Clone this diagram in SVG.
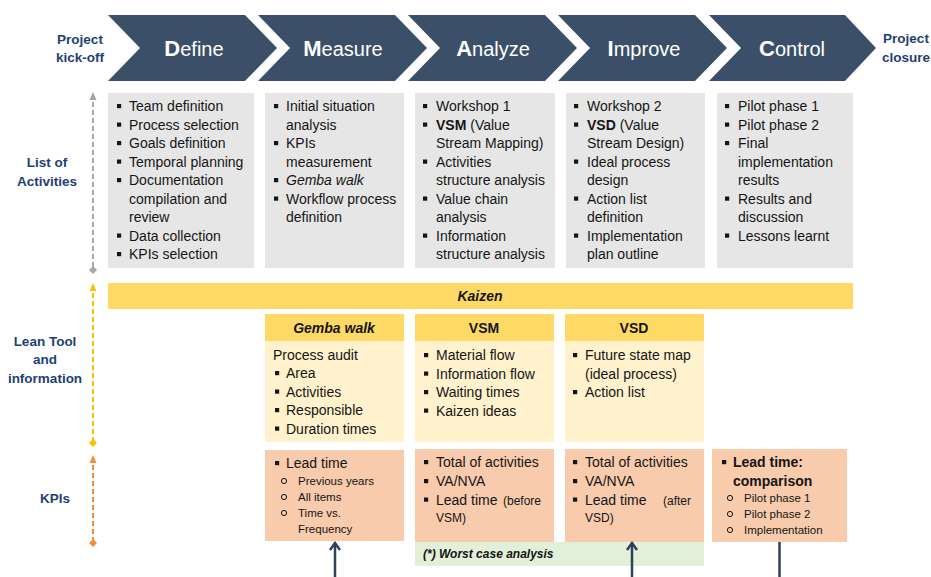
<svg xmlns="http://www.w3.org/2000/svg" width="931" height="577" viewBox="0 0 931 577">
<defs>
<style>
text{font-family:"Liberation Sans",Arial,sans-serif;fill:#151515}
.t{font-size:14px}
.s{font-size:11.5px}
.sm{font-size:12px}
.ph{font-size:20px;fill:#ffffff}
.ph tspan.b{font-weight:bold;font-size:22px}
.lbl{font-size:13.5px;font-weight:bold;fill:#1f3f73;text-anchor:middle}
.chev{fill:#3c4f69}
.gray{fill:#e7e6e6}
.yh{fill:#ffd966}
.yb{fill:#fff2cc}
.pk{fill:#f8cbad}
.gr{fill:#e2f0d9}
.hd{font-size:14px;font-weight:bold;text-anchor:middle}
.bi{font-style:italic;font-weight:bold}
.bl{fill:#151515}
.ci{fill:none;stroke:#151515;stroke-width:1}
.conn{stroke:#2f4158;stroke-width:2.5;fill:none}
</style>
<marker id="up" viewBox="0 0 12 12" refX="10" refY="6" markerWidth="12" markerHeight="12" markerUnits="userSpaceOnUse" orient="auto">
<path d="M3,1 L10,6 L3,11" fill="none" stroke="#2f4158" stroke-width="2.5"/>
</marker>
<marker id="agray" viewBox="0 0 8 8" refX="6" refY="4" markerWidth="8" markerHeight="8" markerUnits="userSpaceOnUse" orient="auto-start-reverse"><path d="M0,0.5 L8,4 L0,7.5Z" fill="#a6a6a6"/></marker>
<marker id="dgray" viewBox="0 0 8 8" refX="4" refY="4" markerWidth="8" markerHeight="8" markerUnits="userSpaceOnUse"><path d="M4,0 L8,4 L4,8 L0,4Z" fill="#a6a6a6"/></marker>
<marker id="ayel" viewBox="0 0 8 8" refX="6" refY="4" markerWidth="8" markerHeight="8" markerUnits="userSpaceOnUse" orient="auto-start-reverse"><path d="M0,0.5 L8,4 L0,7.5Z" fill="#ffc000"/></marker>
<marker id="dyel" viewBox="0 0 8 8" refX="4" refY="4" markerWidth="8" markerHeight="8" markerUnits="userSpaceOnUse"><path d="M4,0 L8,4 L4,8 L0,4Z" fill="#ffc000"/></marker>
<marker id="aor" viewBox="0 0 8 8" refX="6" refY="4" markerWidth="8" markerHeight="8" markerUnits="userSpaceOnUse" orient="auto-start-reverse"><path d="M0,0.5 L8,4 L0,7.5Z" fill="#f58d3c"/></marker>
<marker id="dor" viewBox="0 0 8 8" refX="4" refY="4" markerWidth="8" markerHeight="8" markerUnits="userSpaceOnUse"><path d="M4,0 L8,4 L4,8 L0,4Z" fill="#f58d3c"/></marker>
<rect id="sq" x="-2" y="-2" width="4.2" height="4.2"/>
</defs>
<rect width="931" height="577" fill="#ffffff"/>

<!-- Left labels -->
<g id="label-kickoff"><text class="lbl" x="80" y="44">Project</text><text class="lbl" x="80" y="62">kick-off</text></g>
<g id="label-closure"><text class="lbl" x="906" y="43">Project</text><text class="lbl" x="906" y="62">closure</text></g>
<g id="label-activities"><text class="lbl" x="47" y="167">List of</text><text class="lbl" x="47" y="186">Activities</text></g>
<g id="label-lean"><text class="lbl" x="45" y="346">Lean Tool</text><text class="lbl" x="45" y="364">and</text><text class="lbl" x="45" y="383">information</text></g>
<g id="label-kpis"><text class="lbl" x="55" y="503">KPIs</text></g>

<!-- Axis lines -->
<g id="axes" stroke-width="2" stroke-dasharray="5,3">
<line x1="93" y1="94" x2="93" y2="270" stroke="#a6a6a6" marker-start="url(#agray)" marker-end="url(#dgray)"/>
<line x1="93" y1="285" x2="93" y2="443" stroke="#ffc000" marker-start="url(#ayel)" marker-end="url(#dyel)"/>
<line x1="93" y1="457" x2="93" y2="543" stroke="#f58d3c" marker-start="url(#aor)" marker-end="url(#dor)"/>
</g>

<!-- Phase chevrons -->
<g id="phase-define"><polygon class="chev" points="108,15 245,15 277,48 245,81 108,81 140,48"/><text class="ph" x="194" y="56" text-anchor="middle"><tspan class="b">D</tspan>efine</text></g>
<g id="phase-measure"><polygon class="chev" points="258,15 395,15 427,48 395,81 258,81 290,48"/><text class="ph" x="343" y="56" text-anchor="middle"><tspan class="b">M</tspan>easure</text></g>
<g id="phase-analyze"><polygon class="chev" points="408,15 545,15 577,48 545,81 408,81 440,48"/><text class="ph" x="493" y="56" text-anchor="middle"><tspan class="b">A</tspan>nalyze</text></g>
<g id="phase-improve"><polygon class="chev" points="558,15 695,15 727,48 695,81 558,81 590,48"/><text class="ph" x="644" y="56" text-anchor="middle"><tspan class="b">I</tspan>mprove</text></g>
<g id="phase-control"><polygon class="chev" points="709,15 845,15 876,48 845,81 709,81 741,48"/><text class="ph" x="792" y="56" text-anchor="middle"><tspan class="b">C</tspan>ontrol</text></g>

<!-- Activities -->
<g id="act-define">
<rect class="gray" x="108" y="93" width="146" height="175"/>
<g class="bl"><use href="#sq" x="119" y="106"/><use href="#sq" x="119" y="124.5"/><use href="#sq" x="119" y="143"/><use href="#sq" x="119" y="161.5"/><use href="#sq" x="119" y="180"/><use href="#sq" x="119" y="235.5"/><use href="#sq" x="119" y="254"/></g>
<text class="t" x="129" y="111">Team definition</text>
<text class="t" x="129" y="129.5">Process selection</text>
<text class="t" x="129" y="148">Goals definition</text>
<text class="t" x="129" y="166.5">Temporal planning</text>
<text class="t" x="129" y="185">Documentation</text>
<text class="t" x="129" y="203.5">compilation and</text>
<text class="t" x="129" y="222">review</text>
<text class="t" x="129" y="240.5">Data collection</text>
<text class="t" x="129" y="259">KPIs selection</text>
</g>
<g id="act-measure">
<rect class="gray" x="265" y="93" width="139" height="175"/>
<g class="bl"><use href="#sq" x="276" y="106"/><use href="#sq" x="276" y="143"/><use href="#sq" x="276" y="180"/><use href="#sq" x="276" y="198.5"/></g>
<text class="t" x="286" y="111">Initial situation</text>
<text class="t" x="286" y="129.5">analysis</text>
<text class="t" x="286" y="148">KPIs</text>
<text class="t" x="286" y="166.5">measurement</text>
<text class="t" x="286" y="185" font-style="italic">Gemba walk</text>
<text class="t" x="286" y="203.5">Workflow process</text>
<text class="t" x="286" y="222">definition</text>
</g>
<g id="act-analyze">
<rect class="gray" x="415" y="93" width="140" height="175"/>
<g class="bl"><use href="#sq" x="425" y="106"/><use href="#sq" x="425" y="124.5"/><use href="#sq" x="425" y="161.5"/><use href="#sq" x="425" y="198.5"/><use href="#sq" x="425" y="235.5"/></g>
<text class="t" x="436" y="111">Workshop 1</text>
<text class="t" x="436" y="129.5"><tspan font-weight="bold">VSM</tspan> (Value</text>
<text class="t" x="436" y="148">Stream Mapping)</text>
<text class="t" x="436" y="166.5">Activities</text>
<text class="t" x="436" y="185">structure analysis</text>
<text class="t" x="436" y="203.5">Value chain</text>
<text class="t" x="436" y="222">analysis</text>
<text class="t" x="436" y="240.5">Information</text>
<text class="t" x="436" y="259">structure analysis</text>
</g>
<g id="act-improve">
<rect class="gray" x="566" y="93" width="139" height="175"/>
<g class="bl"><use href="#sq" x="576" y="106"/><use href="#sq" x="576" y="124.5"/><use href="#sq" x="576" y="161.5"/><use href="#sq" x="576" y="198.5"/><use href="#sq" x="576" y="235.5"/></g>
<text class="t" x="587" y="111">Workshop 2</text>
<text class="t" x="587" y="129.5"><tspan font-weight="bold">VSD</tspan> (Value</text>
<text class="t" x="587" y="148">Stream Design)</text>
<text class="t" x="587" y="166.5">Ideal process</text>
<text class="t" x="587" y="185">design</text>
<text class="t" x="587" y="203.5">Action list</text>
<text class="t" x="587" y="222">definition</text>
<text class="t" x="587" y="240.5">Implementation</text>
<text class="t" x="587" y="259">plan outline</text>
</g>
<g id="act-control">
<rect class="gray" x="717" y="93" width="136" height="175"/>
<g class="bl"><use href="#sq" x="727" y="106"/><use href="#sq" x="727" y="124.5"/><use href="#sq" x="727" y="143"/><use href="#sq" x="727" y="198.5"/><use href="#sq" x="727" y="235.5"/></g>
<text class="t" x="738" y="111">Pilot phase 1</text>
<text class="t" x="738" y="129.5">Pilot phase 2</text>
<text class="t" x="738" y="148">Final</text>
<text class="t" x="738" y="166.5">implementation</text>
<text class="t" x="738" y="185">results</text>
<text class="t" x="738" y="203.5">Results and</text>
<text class="t" x="738" y="222">discussion</text>
<text class="t" x="738" y="240.5">Lessons learnt</text>
</g>

<!-- Lean tools -->
<g id="tool-kaizen">
<rect class="yh" x="108" y="283" width="745" height="26"/>
<text class="hd bi" x="480" y="301">Kaizen</text>
</g>
<g id="tool-gemba">
<rect class="yh" x="265" y="314" width="139" height="27"/>
<rect class="yb" x="265" y="341" width="139" height="101"/>
<text class="hd bi" x="334" y="333">Gemba walk</text>
<text class="t" x="273" y="360">Process audit</text>
<g class="bl"><use href="#sq" x="277" y="373"/><use href="#sq" x="277" y="391.5"/><use href="#sq" x="277" y="410"/><use href="#sq" x="277" y="428.5"/></g>
<text class="t" x="286" y="378">Area</text>
<text class="t" x="286" y="396.5">Activities</text>
<text class="t" x="286" y="415">Responsible</text>
<text class="t" x="286" y="433.5">Duration times</text>
</g>
<g id="tool-vsm">
<rect class="yh" x="415" y="314" width="139" height="27"/>
<rect class="yb" x="415" y="341" width="139" height="101"/>
<text class="hd" x="484" y="333">VSM</text>
<g class="bl"><use href="#sq" x="426" y="355"/><use href="#sq" x="426" y="373.5"/><use href="#sq" x="426" y="392"/><use href="#sq" x="426" y="410.5"/></g>
<text class="t" x="436" y="360">Material flow</text>
<text class="t" x="436" y="378.5">Information flow</text>
<text class="t" x="436" y="397">Waiting times</text>
<text class="t" x="436" y="415.5">Kaizen ideas</text>
</g>
<g id="tool-vsd">
<rect class="yh" x="565" y="314" width="139" height="27"/>
<rect class="yb" x="565" y="341" width="139" height="101"/>
<text class="hd" x="634" y="333">VSD</text>
<g class="bl"><use href="#sq" x="575" y="355"/><use href="#sq" x="575" y="392"/></g>
<text class="t" x="585" y="360">Future state map</text>
<text class="t" x="585" y="378.5">(ideal process)</text>
<text class="t" x="585" y="397">Action list</text>
</g>

<!-- KPIs -->
<g id="kpi-define">
<rect class="pk" x="265" y="450" width="139" height="91"/>
<use class="bl" href="#sq" x="277" y="463"/>
<text class="t" x="286" y="468">Lead time</text>
<circle class="ci" cx="284" cy="481" r="2.6"/><circle class="ci" cx="284" cy="497" r="2.6"/><circle class="ci" cx="284" cy="513" r="2.6"/>
<text class="s" x="298" y="485">Previous years</text>
<text class="s" x="298" y="501">All items</text>
<text class="s" x="298" y="517">Time vs.</text>
<text class="s" x="298" y="533">Frequency</text>
</g>
<g id="kpi-note">
<rect class="gr" x="415" y="542" width="289" height="24"/>
<text class="sm bi" x="423" y="558">(*) Worst case analysis</text>
</g>
<g id="kpi-analyze">
<rect class="pk" x="415" y="449" width="139" height="93"/>
<g class="bl"><use href="#sq" x="426" y="462"/><use href="#sq" x="426" y="481"/><use href="#sq" x="426" y="499.5"/></g>
<text class="t" x="436" y="467">Total of activities</text>
<text class="t" x="436" y="486">VA/NVA</text>
<text class="t" x="436" y="504.5">Lead time</text>
<text class="sm" x="503" y="504.5">(before</text>
<text class="sm" x="436" y="521.5">VSM)</text>
</g>
<g id="kpi-improve">
<rect class="pk" x="565" y="449" width="139" height="93"/>
<g class="bl"><use href="#sq" x="575" y="462"/><use href="#sq" x="575" y="481"/><use href="#sq" x="575" y="499.5"/></g>
<text class="t" x="585" y="467">Total of activities</text>
<text class="t" x="585" y="486">VA/NVA</text>
<text class="t" x="585" y="504.5">Lead time</text>
<text class="sm" x="663" y="504.5">(after</text>
<text class="sm" x="585" y="521.5">VSD)</text>
</g>
<g id="kpi-control">
<rect class="pk" x="712" y="449" width="135" height="93"/>
<use class="bl" href="#sq" x="724" y="462"/>
<text class="t" x="733" y="467" font-weight="bold">Lead time:</text>
<text class="t" x="733" y="486" font-weight="bold">comparison</text>
<circle class="ci" cx="730" cy="498" r="2.6"/><circle class="ci" cx="730" cy="514" r="2.6"/><circle class="ci" cx="730" cy="530" r="2.6"/>
<text class="s" x="744" y="502">Pilot phase 1</text>
<text class="s" x="744" y="518">Pilot phase 2</text>
<text class="s" x="744" y="534">Implementation</text>
</g>

<!-- Connectors -->
<g id="connectors">
<line class="conn" x1="335" y1="577" x2="335" y2="543" marker-end="url(#up)"/>
<line class="conn" x1="632" y1="577" x2="632" y2="543" marker-end="url(#up)"/>
<line class="conn" x1="779.5" y1="542" x2="779.5" y2="577"/>
</g>
</svg>
